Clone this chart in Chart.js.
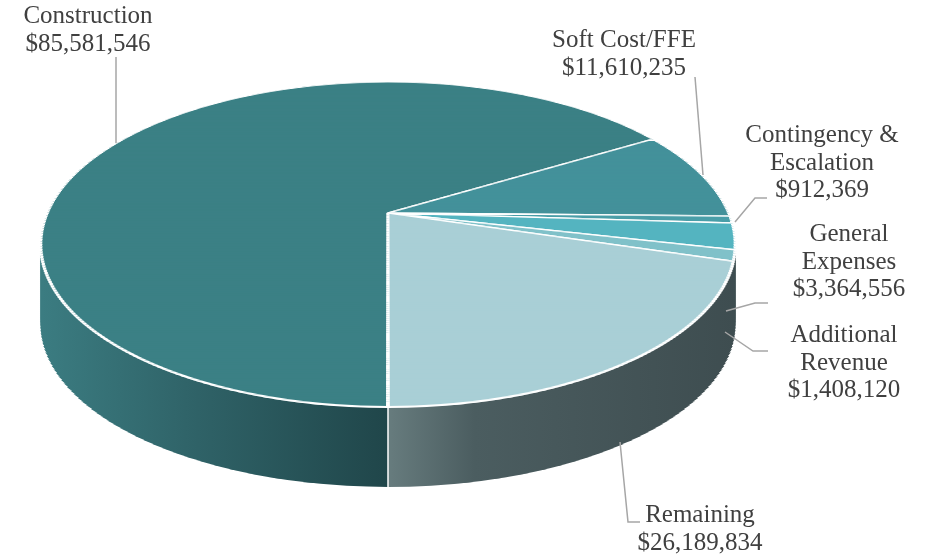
<!DOCTYPE html>
<html>
<head>
<meta charset="utf-8">
<script src="https://cdn.jsdelivr.net/npm/chart.js@4"></script>
<style>
  html, body { margin: 0; padding: 0; background: #fff; }
  canvas { display: block; }
</style>
</head>
<body>
<canvas id="budgetPie" width="928" height="556"></canvas>
<script>
// --- data ---
const categories = ["Construction", "Soft Cost/FFE", "Contingency & Escalation", "General Expenses", "Additional Revenue", "Remaining"];
const amounts = [85581546, 11610235, 912369, 3364556, 1408120, 26189834];
// how each label is broken into lines (text only)
const labelNames = [["Construction"], ["Soft Cost/FFE"], ["Contingency &", "Escalation"], ["General", "Expenses"], ["Additional", "Revenue"], ["Remaining"]];

// --- look ---
const topColors = ["#3b8085", "#43919a", "#4a9ea8", "#54b4c0", "#80c1c9", "#a9cfd6"];
const DEPTH = 80;   // thickness of the disc in px
// perspective of the top face: u,v in [-1,1] -> screen
const PX = 388, PA = 340.4, PB = 115.1, PC = 213, PP = -0.1938;
const projX = (u, v) => PX + (PA * u) / (1 + PP * v);
const projY = (v) => (PB * v + PC) / (1 + PP * v);

// label anchors: center x, first baseline y
const labelPos = [[88, 23], [624, 47], [822, 142], [849, 241], [844, 342], [700, 522]];
const leaders = [
  [[116, 57], [116, 143]],
  [[695, 77], [703, 175]],
  [[767, 198], [755, 198], [735, 222]],
  [[768, 303], [755, 303], [726, 311]],
  [[725, 332], [753, 351], [768, 351]],
  [[620, 442], [628, 522], [640, 522]],
];

const canvas = document.getElementById("budgetPie");
const ctx = canvas.getContext("2d");

// side colours, gradients given in screen x and mapped back through the strip scale
function sideFill(i, cx, sx) {
  const toChart = (X) => cx + (X - PX) / sx;
  if (i === 0) {
    const g = ctx.createLinearGradient(toChart(42), 0, toChart(388), 0);
    g.addColorStop(0, "#3b7c81");
    g.addColorStop(0.45, "#2f6267");
    g.addColorStop(1, "#20464a");
    return g;
  }
  if (i === 5) {
    const g = ctx.createLinearGradient(toChart(388), 0, toChart(735), 0);
    g.addColorStop(0, "#677c7e");
    g.addColorStop(0.25, "#4b5d60");
    g.addColorStop(1, "#3e4d50");
    return g;
  }
  return "#3f4f52";
}

// draw the chart's arcs in horizontal strips, each strip with its own affine map
function drawStrips(c, arcs, v0, v1, n, dy, fillFor, extra) {
  const cx = arcs[0].x, cy = arcs[0].y, R = arcs[0].outerRadius;
  const step = (v1 - v0) / n;
  for (let k = 0; k < n; k++) {
    const va = v0 + k * step, vb = va + step, vm = va + step / 2;
    const ya = projY(va) + dy, yb = projY(vb) + dy;
    const sx = PA / (R * (1 + PP * vm));
    const sy = (yb - ya) / (step * R);
    const top = k === 0 ? ya - 4 : ya - 0.6;
    const bot = k === n - 1 ? yb + 4 : yb + 0.6;
    c.save();
    c.beginPath();
    c.rect(0, top, c.canvas.width, bot - top);
    c.clip();
    c.translate(PX, ya);
    c.scale(sx, sy);
    c.translate(-cx, -(cy + va * R));
    arcs.forEach((arc, i) => {
      const o = arc.options;
      if (fillFor) {
        arc.options = Object.assign(Object.create(o), { backgroundColor: fillFor(i, cx, sx), borderWidth: 0 });
      }
      arc.draw(c);
      arc.options = o;
    });
    c.restore();
  }
}

const pie3d = {
  id: "pie3d",
  beforeDatasetsDraw(chart) {
    const c = chart.ctx;
    const arcs = chart.getDatasetMeta(0).data;
    // side wall: stacked copies of the front half, deepest first
    for (let d = DEPTH; d >= 2; d -= 2) {
      drawStrips(c, arcs, -0.1, 1, 60, d, sideFill);
    }
    // top face
    drawStrips(c, arcs, -1, 1, 200, 0, null);
    // white seams on the visible front of the wall
    c.save();
    c.strokeStyle = "#ffffff";
    c.lineWidth = 1.5;
    arcs.forEach((arc) => {
      const a = arc.startAngle;
      const u = Math.cos(a), v = Math.sin(a);
      if (v > 0.5) {
        const x = projX(u, v), y = projY(v);
        c.beginPath();
        c.moveTo(x, y);
        c.lineTo(x, y + DEPTH);
        c.stroke();
      }
    });
    c.restore();
    return false; // arcs are already drawn
  },
};

const pieLabels = {
  id: "pieLabels",
  afterDraw(chart) {
    const c = chart.ctx;
    c.save();
    c.strokeStyle = "#a6a6a6";
    c.lineWidth = 1.5;
    leaders.forEach((pts) => {
      c.beginPath();
      pts.forEach((p, k) => (k ? c.lineTo(p[0], p[1]) : c.moveTo(p[0], p[1])));
      c.stroke();
    });
    c.fillStyle = "#404040";
    c.font = "25px 'Liberation Serif', serif";
    c.textAlign = "center";
    c.textBaseline = "alphabetic";
    categories.forEach((name, i) => {
      const lines = labelNames[i].concat("$" + amounts[i].toLocaleString("en-US"));
      lines.forEach((t, k) => c.fillText(t, labelPos[i][0], labelPos[i][1] + k * 27.5));
    });
    c.restore();
  },
};

new Chart(ctx, {
  type: "pie",
  data: {
    labels: categories,
    datasets: [{
      data: amounts,
      backgroundColor: topColors,
      borderColor: "#ffffff",
      borderWidth: 2.6,
      clip: false,
    }],
  },
  options: {
    responsive: false,
    animation: false,
    rotation: 180,
    radius: 300,
    layout: { padding: { left: 0, right: 152, top: 0, bottom: 68 } },
    plugins: { legend: { display: false }, tooltip: { enabled: false } },
  },
  plugins: [pie3d, pieLabels],
});
</script>
</body>
</html>
